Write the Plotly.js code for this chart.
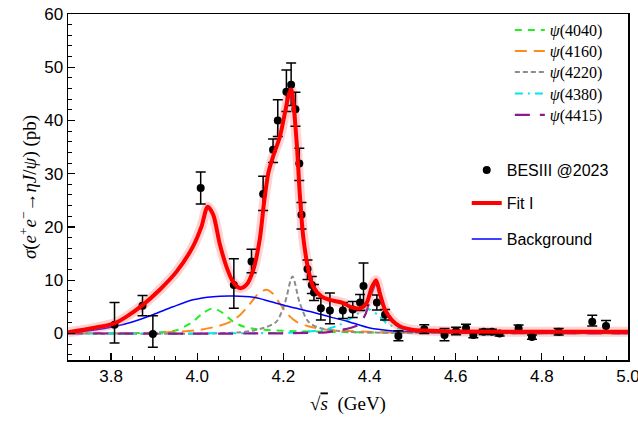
<!DOCTYPE html>
<html>
<head>
<meta charset="utf-8">
<script src="https://cdn.plot.ly/plotly-3.0.1.min.js"></script>
<style>html,body{margin:0;padding:0;background:#fff;}#chart{width:638px;height:430px;}</style>
</head>
<body>
<div id="chart"></div>
<script>
// ---- Data points (BESIII @2023) ----
const dataX = [3.808, 3.873, 3.897, 4.008, 4.085, 4.126, 4.153, 4.176, 4.187, 4.207, 4.218, 4.228, 4.237, 4.242, 4.256, 4.266, 4.271, 4.287, 4.308, 4.338, 4.361, 4.378, 4.386, 4.417, 4.436, 4.467, 4.527, 4.574, 4.601, 4.624, 4.641, 4.665, 4.684, 4.702, 4.746, 4.777, 4.839, 4.917, 4.949];
const dataY = [1.6, 5.2, -0.1, 27.3, 9.1, 13.5, 26.2, 34.5, 40.0, 45.4, 46.7, 42.1, 31.9, 22.3, 12.1, 9.1, 7.7, 4.7, 4.3, 4.3, 4.5, 5.8, 8.9, 5.8, 3.5, -0.5, 0.8, -0.3, 0.45, 1.0, -0.3, 0.3, 0.3, 0.0, 0.96, -0.7, 0.3, 2.2, 1.4];
const errPlus = [4.2, 1.9, 3.4, 3.0, 4.9, 2.3, 3.3, 2.0, 3.9, 4.1, 4.1, 3.2, 2.9, 2.3, 1.7, 1.6, 1.5, 1.9, 3.3, 1.5, 1.5, 1.5, 4.3, 1.4, 1.0, 1.0, 0.8, 1.2, 0.7, 0.7, 0.5, 0.5, 0.5, 0.5, 0.6, 0.4, 0.6, 1.2, 1.0];
const errMinus = [3.4, 1.9, 2.5, 3.0, 4.4, 2.1, 3.1, 2.4, 3.0, 3.7, 3.9, 3.2, 3.2, 2.7, 2.0, 1.6, 1.5, 2.2, 2.5, 1.5, 1.5, 1.5, 3.6, 1.4, 1.0, 0.9, 0.8, 1.1, 0.7, 0.7, 0.5, 0.5, 0.5, 0.5, 0.6, 0.4, 0.6, 0.8, 1.0];

// ---- Fit I ----
const fitX = [3.70, 3.758, 3.808, 3.835, 3.873, 3.913, 3.952, 3.990, 4.010, 4.024, 4.037, 4.052, 4.068, 4.083, 4.099, 4.114, 4.130, 4.145, 4.155, 4.165, 4.176, 4.192, 4.2035, 4.2135, 4.2185, 4.223, 4.231, 4.238, 4.246, 4.258, 4.269, 4.289, 4.308, 4.339, 4.355, 4.378, 4.393, 4.405, 4.415, 4.424, 4.436, 4.452, 4.471, 4.502, 4.541, 4.60, 4.80, 5.00];
const fitY = [0.2, 1.0, 1.9, 3.1, 5.3, 8.2, 11.6, 16.3, 20.1, 23.8, 22.3, 16.9, 12.5, 9.7, 8.5, 9.1, 11.9, 17.6, 24.5, 30.1, 33.2, 37.0, 41.4, 45.1, 45.8, 43.3, 35.7, 26.3, 18.2, 11.9, 8.8, 6.9, 6.3, 5.7, 5.0, 4.7, 5.7, 8.6, 10.0, 7.5, 4.4, 2.5, 1.3, 0.64, 0.5, 0.35, 0.3, 0.3];

// ---- Background ----
const bgX = [3.70, 3.758, 3.808, 3.851, 3.897, 3.944, 3.990, 4.037, 4.083, 4.130, 4.169, 4.215, 4.262, 4.308, 4.351, 4.401, 4.448, 4.494, 4.60, 5.00];
const bgY = [0.1, 0.6, 1.3, 2.2, 3.5, 5.0, 6.3, 6.9, 7.0, 6.8, 6.0, 5.0, 4.1, 3.1, 2.2, 1.0, 0.5, 0.3, 0.1, 0.05];

// ---- Resonance components ----
const psi4040X = [3.70, 3.85, 3.913, 3.952, 3.990, 4.013, 4.037, 4.060, 4.083, 4.107, 4.138, 4.20, 4.30, 4.50, 5.00];
const psi4040Y = [0.0, 0.05, 0.2, 0.6, 2.2, 3.8, 4.7, 3.8, 2.2, 1.3, 0.8, 0.5, 0.3, 0.1, 0.0];

const psi4160X = [3.70, 3.90, 3.95, 4.00, 4.05, 4.08, 4.10, 4.12, 4.14, 4.16, 4.175, 4.19, 4.21, 4.23, 4.26, 4.30, 4.40, 4.50, 5.00];
const psi4160Y = [0.0, 0.1, 0.3, 0.6, 1.4, 2.3, 3.5, 5.3, 7.3, 8.2, 7.5, 5.8, 3.6, 2.2, 1.3, 0.7, 0.3, 0.1, 0.0];

const psi4220X = [3.70, 4.10, 4.153, 4.184, 4.2035, 4.221, 4.238, 4.258, 4.285, 4.35, 4.50, 5.00];
const psi4220Y = [0.0, 0.2, 1.0, 2.2, 5.7, 10.7, 5.7, 2.2, 1.0, 0.3, 0.1, 0.0];

const psi4380X = [3.70, 4.20, 4.25, 4.30, 4.33, 4.36, 4.385, 4.40, 4.42, 4.44, 4.47, 4.52, 4.60, 5.00];
const psi4380Y = [0.0, 0.1, 0.3, 0.8, 1.6, 3.0, 4.3, 4.5, 3.4, 1.9, 0.9, 0.4, 0.2, 0.05];

const psi4415X = [3.70, 4.30, 4.324, 4.355, 4.374, 4.39, 4.405, 4.415, 4.425, 4.435, 4.452, 4.479, 4.52, 4.60, 5.00];
const psi4415Y = [0.0, 0.2, 0.5, 1.0, 1.6, 3.5, 7.5, 9.3, 7.0, 4.4, 2.2, 1.0, 0.4, 0.15, 0.0];

const xTickVals = [3.8, 4.0, 4.2, 4.4, 4.6, 4.8, 5.0];
const xTickText = ['3.8', '4.0', '4.2', '4.4', '4.6', '4.8', '5.0'];

const legendNames = ['<i>ψ</i>(4040)', '<i>ψ</i>(4160)', '<i>ψ</i>(4220)', '<i>ψ</i>(4380)', '<i>ψ</i>(4415)', 'BESIII @2023', 'Fit I', 'Background'];

const SERIF = 'Liberation Serif';
const SANS = 'Liberation Sans';

const comp = (x, y, name, color, dash, w, leg) => ({
  x: x, y: y, name: name, type: 'scatter', mode: 'lines',
  line: {color: color, dash: dash, width: w, shape: 'spline', smoothing: 0.8},
  legend: leg, hoverinfo: 'skip'
});

const traces = [
  comp(psi4040X, psi4040Y, legendNames[0], '#22ee22', '7px,6px', 2, 'legend'),
  comp(psi4160X, psi4160Y, legendNames[1], '#ff8c1a', '12px,7px', 2, 'legend2'),
  comp(psi4220X, psi4220Y, legendNames[2], '#8c8c8c', '5px,3px', 2, 'legend3'),
  comp(psi4380X, psi4380Y, legendNames[3], '#00e5ee', '8px,5px,2px,5px', 2, 'legend4'),
  comp(psi4415X, psi4415Y, legendNames[4], '#8b1a8b', '15px,10px', 2.2, 'legend5'),
  comp(bgX, bgY, legendNames[7], '#0000ff', 'solid', 1.5, 'legend8'),
  {x: fitX, y: fitY, type: 'scatter', mode: 'lines', showlegend: false, hoverinfo: 'skip',
   line: {color: 'rgba(255,120,120,0.33)', width: 10, shape: 'spline', smoothing: 0.8}},
  {x: dataX, y: dataY, name: legendNames[5], type: 'scatter', mode: 'markers',
   marker: {color: '#000', size: 8},
   error_y: {type: 'data', symmetric: false, array: errPlus, arrayminus: errMinus, color: '#000', thickness: 1.5, width: 5},
   legend: 'legend6'},
  {x: fitX, y: fitY, name: legendNames[6], type: 'scatter', mode: 'lines',
   line: {color: '#ff0000', width: 4, shape: 'spline', smoothing: 0.8},
   legend: 'legend7'}
];

const axisCommon = {
  showline: true, linecolor: '#000', linewidth: 1.5, mirror: true,
  ticks: 'inside', ticklen: 7, tickwidth: 1.2, tickcolor: '#000',
  showgrid: false, zeroline: false, ticklabeloverflow: 'allow',
  tickfont: {family: SANS, size: 17, color: '#000'}
};

const mkLeg = (x, y, fam, size) => ({
  x: x, xanchor: 'left', y: y, yanchor: 'middle',
  bgcolor: 'rgba(0,0,0,0)', borderwidth: 0,
  font: {family: fam, size: size, color: '#000'}
});

const layout = {
  width: 638, height: 430,
  margin: {l: 68, r: 10, t: 14, b: 70},
  paper_bgcolor: '#fff', plot_bgcolor: '#fff',
  showlegend: true,
  xaxis: Object.assign({}, axisCommon, {
    range: [3.7, 5.0], tickvals: xTickVals, ticktext: xTickText,
    minor: {dtick: 0.05, tick0: 3.7, ticks: 'inside', ticklen: 4, tickcolor: '#000', tickwidth: 1},
    title: {text: '√<span style="text-decoration:overline"><i>s</i></span>  (GeV)', font: {family: SERIF, size: 19, color: '#000'}, standoff: 12}
  }),
  yaxis: Object.assign({}, axisCommon, {
    range: [-5, 60], tick0: 0, dtick: 10,
    minor: {dtick: 2, tick0: 0, ticks: 'inside', ticklen: 4, tickcolor: '#000', tickwidth: 1},
    title: {text: '<i>σ</i>(<i>e</i><sup>+</sup><i>e</i><sup>−</sup>→<i>ηJ</i>/<i>ψ</i>) (pb)', font: {family: SERIF, size: 19, color: '#000'}, standoff: 2}
  }),
  legend:  mkLeg(0.789, 0.9538, SERIF, 16),
  legend2: mkLeg(0.789, 0.8931, SERIF, 16),
  legend3: mkLeg(0.789, 0.8324, SERIF, 16),
  legend4: mkLeg(0.789, 0.7702, SERIF, 16),
  legend5: mkLeg(0.789, 0.7081, SERIF, 16),
  legend6: mkLeg(0.712, 0.5491, SANS, 16),
  legend7: mkLeg(0.712, 0.4538, SANS, 16),
  legend8: mkLeg(0.712, 0.3497, SANS, 16)
};

Plotly.newPlot('chart', traces, layout, {staticPlot: true, displayModeBar: false});
</script>
</body>
</html>
